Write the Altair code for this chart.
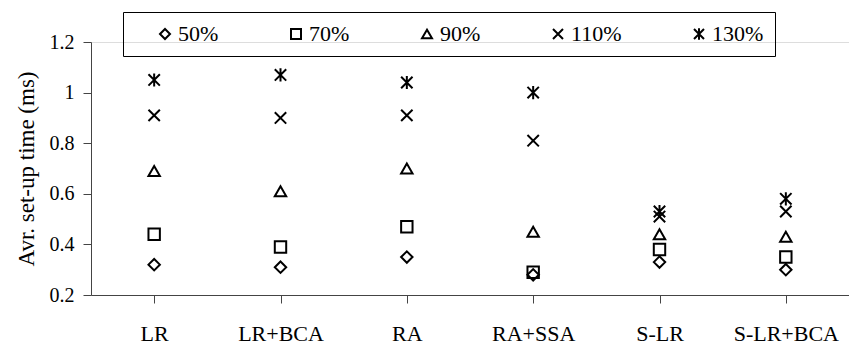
import altair as alt
import pandas as pd

categories = ["LR", "LR+BCA", "RA", "RA+SSA", "S-LR", "S-LR+BCA"]
series = ["50%", "70%", "90%", "110%", "130%"]
v50 = [0.32, 0.31, 0.35, 0.28, 0.33, 0.30]
v70 = [0.44, 0.39, 0.47, 0.29, 0.38, 0.35]
v90 = [0.69, 0.61, 0.70, 0.45, 0.44, 0.43]
v110 = [0.91, 0.90, 0.91, 0.81, 0.51, 0.53]
v130 = [1.05, 1.07, 1.04, 1.00, 0.53, 0.58]

shapes = [
    "diamond",
    "square",
    "triangle-up",
    "M-1,-1L1,1M-1,1L1,-1",
    "M-1,-1L1,1M-1,1L1,-1M0,-1.15L0,1.15",
]

rows = []
for s, vals in zip(series, [v50, v70, v90, v110, v130]):
    for c, v in zip(categories, vals):
        rows.append({"scheme": c, "load": s, "value": v})
df = pd.DataFrame(rows)

FONT = "Liberation Serif"

chart = (
    alt.Chart(df)
    .mark_point(filled=False, color="black", strokeWidth=2, size=130, opacity=1)
    .encode(
        x=alt.X(
            "scheme:N",
            sort=categories,
            title=None,
            scale=alt.Scale(paddingInner=0, paddingOuter=0),
            axis=alt.Axis(
                labelAngle=0,
                labelFont=FONT,
                labelFontSize=22,
                labelColor="black",
                labelPadding=20,
                tickSize=8,
                tickColor="#444",
                domainColor="#444",
                bandPosition=0,
                grid=False,
            ),
        ),
        y=alt.Y(
            "value:Q",
            title="Avr. set-up time (ms)",
            scale=alt.Scale(domain=[0.2, 1.2], nice=False, zero=False),
            axis=alt.Axis(
                values=[0.2, 0.4, 0.6, 0.8, 1.0, 1.2],
                labelExpr="datum.value == 1 ? '1' : format(datum.value, '.1f')",
                labelFont=FONT,
                labelFontSize=20,
                labelColor="black",
                labelPadding=9,
                tickSize=8,
                tickColor="#444",
                domainColor="#444",
                titleFont=FONT,
                titleFontSize=23,
                titleFontWeight="normal",
                titleColor="black",
                titlePadding=11,
                grid=False,
            ),
        ),
        shape=alt.Shape(
            "load:N",
            sort=series,
            scale=alt.Scale(domain=series, range=shapes),
            legend=alt.Legend(
                title=None,
                orient="none",
                legendX=32,
                legendY=-30,
                direction="horizontal",
                columns=5,
                gridAlign="each",
                columnPadding=46,
                padding=11,
                strokeColor="black",
                symbolOffset=20,
                labelOffset=2,
                symbolSize=100,
                symbolStrokeWidth=2,
                symbolStrokeColor="black",
                symbolFillColor="transparent",
                labelFont=FONT,
                labelFontSize=22,
                labelColor="black",
                labelExpr="datum.label == '130%' ? datum.label + '       ' : datum.label",
            ),
        ),
    )
    .properties(
        width=758,
        height=253,
        padding={"left": 83, "top": 34, "right": 0, "bottom": 50},
        autosize="none",
    )
    .configure_view(stroke=None)
    .configure(background="white")
)

chart.save("out.html", embed_options={"renderer": "svg", "actions": False})
